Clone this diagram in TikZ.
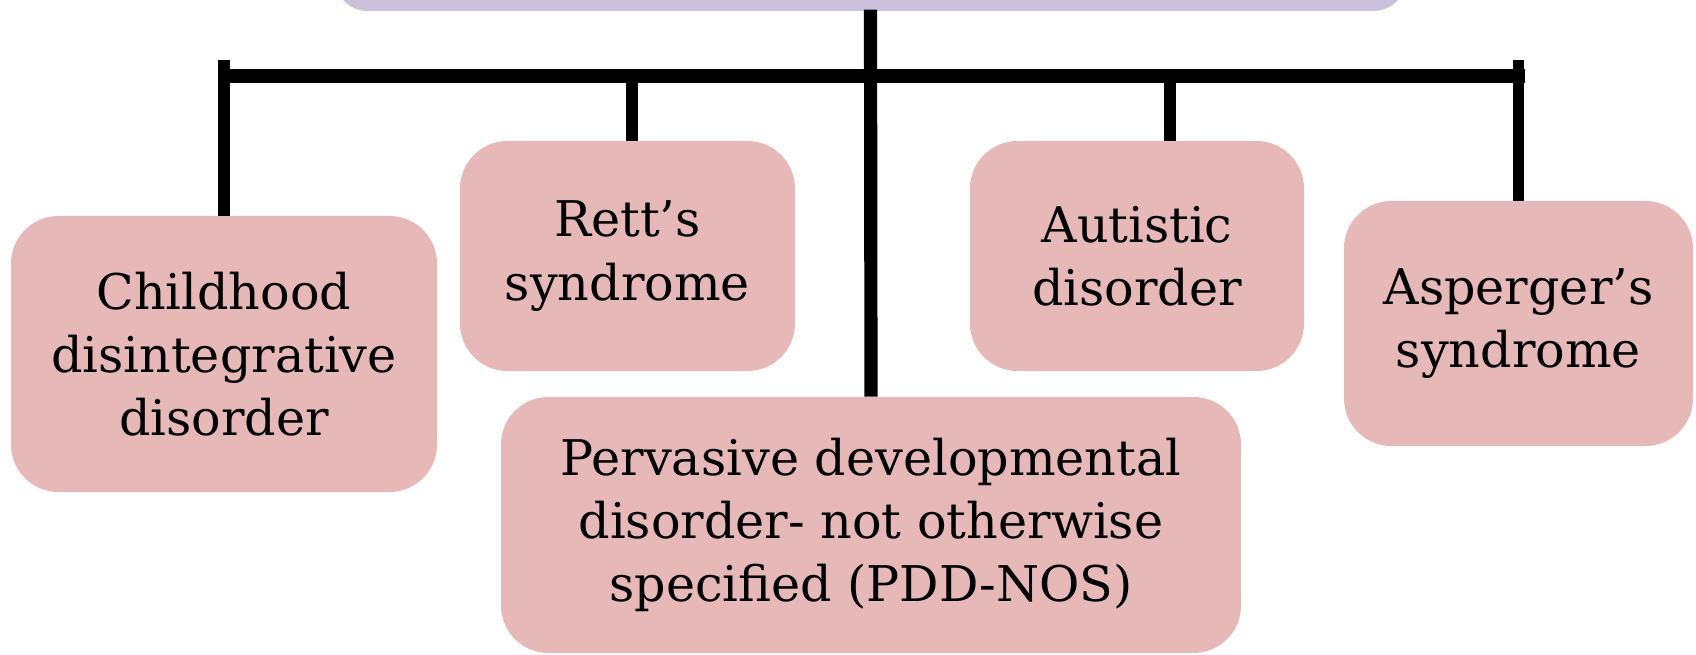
\documentclass[tikz,border=0pt]{standalone}
\usepackage{fontspec}
\setmainfont{DejaVu Serif}
\definecolor{rosebox}{HTML}{E6B8B7}
\definecolor{lilacbox}{HTML}{CCC1DA}

\begin{document}
\begin{tikzpicture}[x=0.02cm,y=0.02cm]
\tikzstyle{every node}+=[inner sep=0pt]
\tikzstyle{kind}=[rectangle,rounded corners=0.95cm,fill=rosebox,align=center,
  font=\fontsize{28}{36}\selectfont]
\tikzstyle{trunk}=[line width=7.5pt,black]
\tikzstyle{tick}=[line width=6.5pt,black]
\useasboundingbox (0,0) rectangle (1696,-655);
\node [rectangle,rounded corners=0.65cm,fill=lilacbox,minimum width=1071*0.02cm,minimum height=90*0.02cm] (pdd top) at (870.5,34) {};
\node [kind,minimum width=426*0.02cm,minimum height=276*0.02cm] (child) at (224,-354) {Childhood\\disintegrative\\disorder};
\node [kind,minimum width=335*0.02cm,minimum height=230*0.02cm] (rett) at (627.5,-256) {Rett’s\\syndrome};
\node [kind,minimum width=334*0.02cm,minimum height=230*0.02cm] (autistic) at (1137,-256) {Autistic\\disorder};
\node [kind,minimum width=349*0.02cm,minimum height=245*0.02cm] (asperger) at (1518.5,-323.5) {Asperger’s\\syndrome};
\node [kind,minimum width=740*0.02cm,minimum height=256*0.02cm] (nos) at (871,-525) {Pervasive developmental\\disorder- not otherwise\\specified (PDD-NOS)};
\coordinate (bar) at (871,-76);
\coordinate (j rett) at (632,-76);
\coordinate (j autistic) at (1170,-76);
\draw [trunk] ([yshift=1pt]pdd top.south) -- (nos.north);
\draw [trunk] ([xshift=-3.5pt]child.north |- bar) -- ([xshift=3.5pt]asperger.north |- bar);
\draw [tick] (child.north) -- ([yshift=9pt]child.north |- bar);
\draw [tick] (asperger.north) -- ([yshift=9pt]asperger.north |- bar);
\draw [tick] (j rett) -- (j rett |- rett.north);
\draw [tick] (j autistic) -- (j autistic |- autistic.north);
\end{tikzpicture}
\end{document}
